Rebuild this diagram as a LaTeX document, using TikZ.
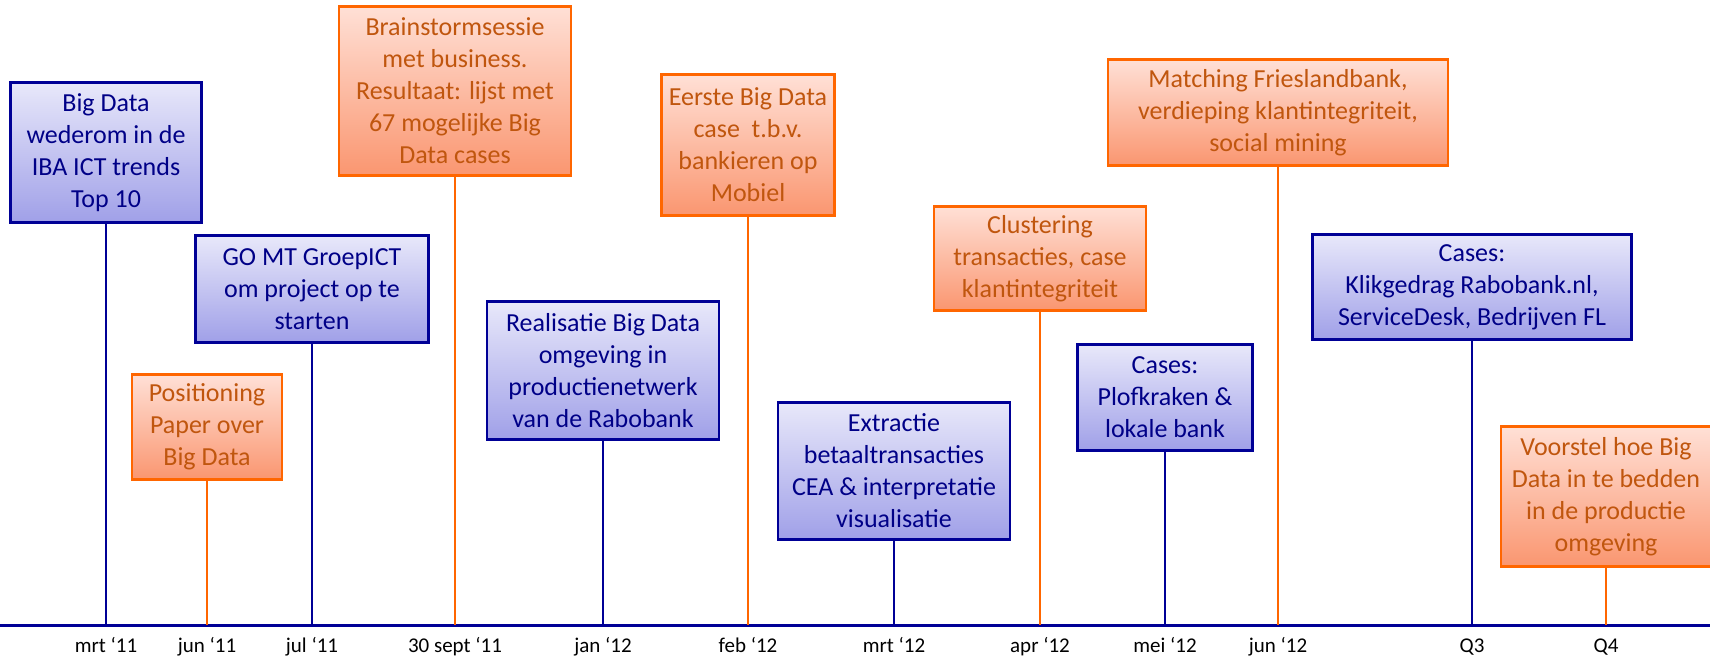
\documentclass[tikz,border=0pt]{standalone}
\usepackage{fontspec}
\setmainfont{Carlito}
\usepackage{tikz}
\definecolor{RaboBlauw}{RGB}{0,0,150}
\definecolor{RaboBlauwTekst}{RGB}{0,0,135}
\definecolor{RaboBlauwBoven}{RGB}{232,232,250}
\definecolor{RaboBlauwOnder}{RGB}{160,160,232}
\definecolor{RaboOranje}{RGB}{255,102,0}
\definecolor{RaboOranjeTekst}{RGB}{192,86,14}
\definecolor{RaboOranjeBoven}{RGB}{255,224,214}
\definecolor{RaboOranjeOnder}{RGB}{250,150,112}
\begin{document}
\begin{tikzpicture}[x=1pt,y=-1pt,font=\fontsize{26}{32}\selectfont,
evt/.style n args={3}{#1,minimum width=#2pt,minimum height=#3pt,rectangle,align=center,inner sep=0pt,anchor=north},
blauw/.style={draw=RaboBlauw,line width=2.8pt,top color=RaboBlauwBoven,bottom color=RaboBlauwOnder,text=RaboBlauwTekst},
oranje/.style={draw=RaboOranje,line width=2.8pt,top color=RaboOranjeBoven,bottom color=RaboOranjeOnder,text=RaboOranjeTekst},
lijnB/.style={RaboBlauw,line width=2pt},
lijnO/.style={RaboOranje,line width=2pt},
maand/.style={font=\fontsize{21}{24}\selectfont,anchor=base,text=black}]
\useasboundingbox (0,0) rectangle (1710,660);
% tijdlijn
\coordinate (asL) at (0,625);
\coordinate (asR) at (1710,625);
\draw[RaboBlauw,line width=3pt] (asL) -- (asR);
\foreach \x/\1 [count=\i] in %
{106/mrt ‘11,207/jun ‘11,312/jul ‘11,455/30 sept ‘11,603/jan ‘12,748/feb ‘12,894/mrt ‘12,1040/apr ‘12,1165/mei ‘12,1278/jun ‘12,1472/Q3,1606/Q4} {
   \coordinate (p\i) at (\x,625);
   \node[maand] (m\i) at (\x,652) {\1};
}
% gebeurtenissen
\node[evt={blauw}{191}{140}] (e1) at (106,81) {Big Data\\wederom in de\\IBA ICT trends\\Top 10};
\node[evt={oranje}{150}{105}] (e2) at (207,373) {Positioning\\Paper over\\Big Data};
\node[evt={blauw}{233}{107}] (e3) at (312,234) {GO MT GroepICT\\om project op te\\starten};
\node[evt={oranje}{232}{169}] (e4) at (455,5) {Brainstormsessie\\met business.\\Resultaat: lijst met\\67 mogelijke Big\\Data cases};
\node[evt={blauw}{232}{138}] (e5) at (603,300) {Realisatie Big Data\\omgeving in\\productienetwerk\\van de Rabobank};
\node[evt={oranje}{173}{141}] (e6) at (748,73) {Eerste Big Data\\case~ t.b.v.\\bankieren op\\Mobiel};
\node[evt={blauw}{232}{137}] (e7) at (894,401) {Extractie\\betaaltransacties\\CEA \& interpretatie\\visualisatie};
\node[evt={oranje}{212}{104}] (e8) at (1040,205) {Clustering\\transacties, case\\klantintegriteit};
\node[evt={blauw}{175}{106}] (e9) at (1165,343) {Cases:\\Plofkraken \&\\lokale bank};
\node[evt={oranje}{340}{106}] (e10) at (1278,58) {Matching Frieslandbank,\\verdieping klantintegriteit,\\social mining};
\node[evt={blauw}{319}{105}] (e11) at (1472,233) {Cases:\\Klikgedrag Rabobank.nl,\\ServiceDesk, Bedrijven FL};
\node[evt={oranje}{210}{140}] (e12) at (1606,425) {Voorstel hoe Big\\Data in te bedden\\in de productie\\omgeving};
% verbindingen
\foreach \i in {1,3,5,7,9,11} {
   \draw[lijnB] (e\i.south) -- (p\i);
}
\foreach \i in {2,4,6,8,10,12} {
   \draw[lijnO] (e\i.south) -- (p\i);
}
\end{tikzpicture}
\end{document}
